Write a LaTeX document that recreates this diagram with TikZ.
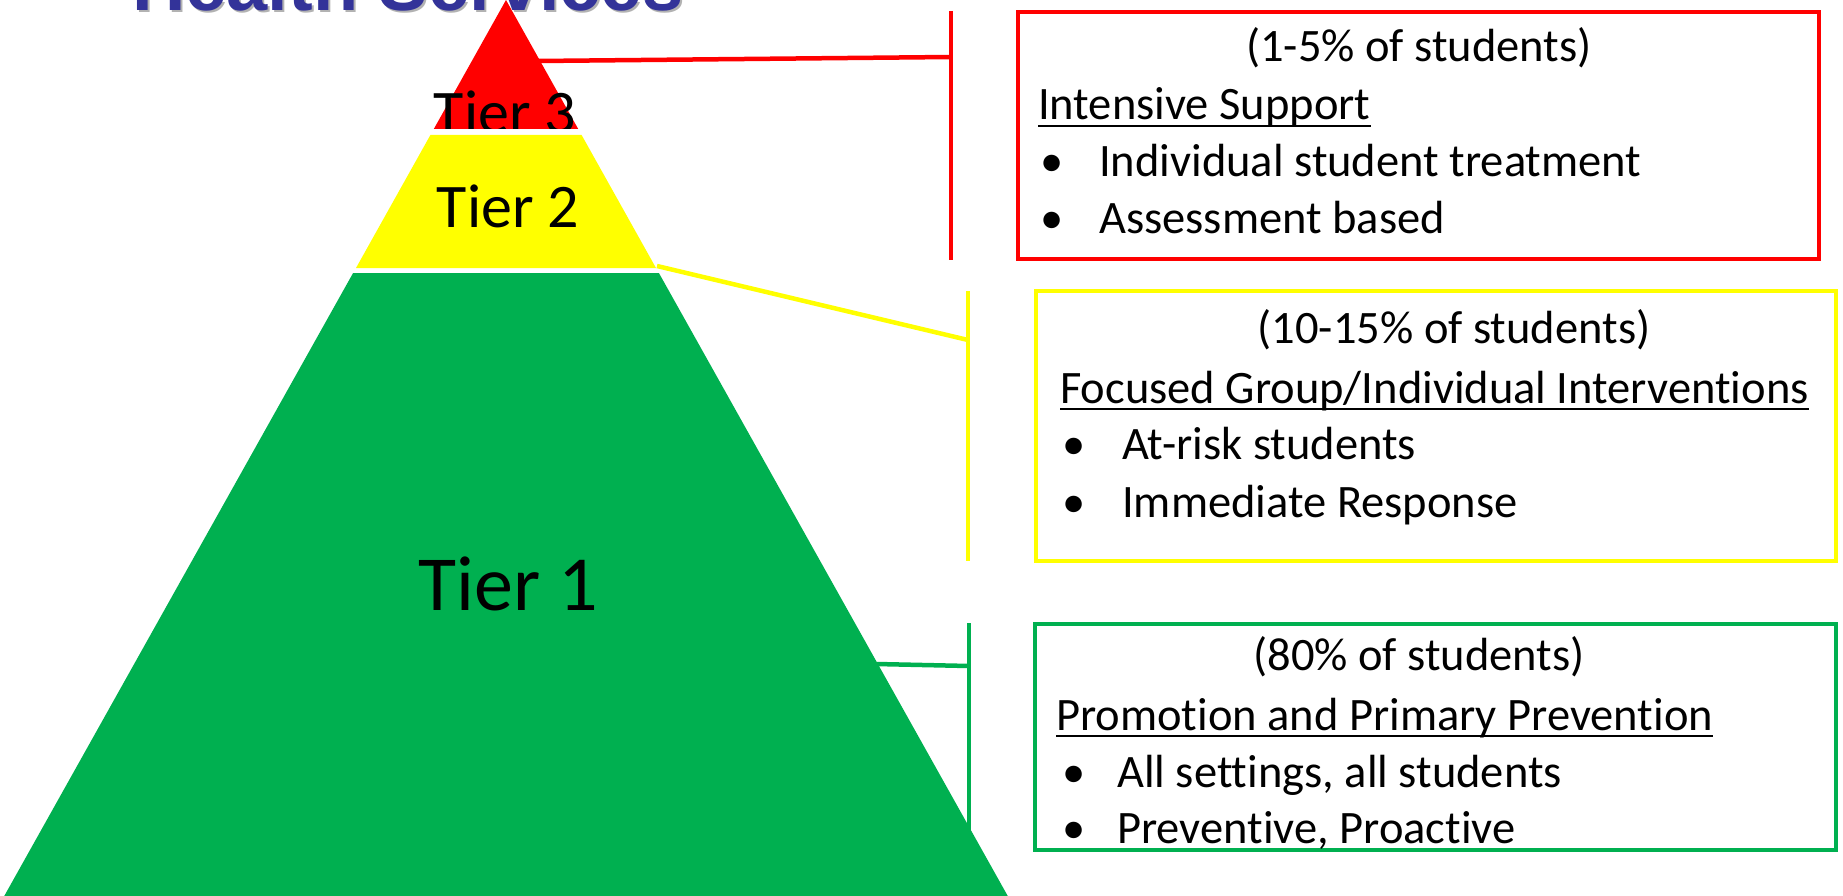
\documentclass[tikz,border=0pt]{standalone}
\usepackage{fontspec}
\setmainfont{Carlito}[Ligatures={NoCommon}]
\newfontfamily\titlefont{Liberation Sans}
\usetikzlibrary{calc}
\definecolor{tred}{RGB}{255,0,0}
\definecolor{tyel}{RGB}{255,255,0}
\definecolor{tgrn}{RGB}{0,176,80}
\definecolor{ttitle}{RGB}{51,51,153}
\begin{document}
\begin{tikzpicture}[x=1pt,y=-1pt,
  boxtext/.style={inner sep=0pt, anchor=base west, font=\fontsize{46.5}{55}\selectfont},
  boxhead/.style={inner sep=0pt, anchor=base, font=\fontsize{46.5}{55}\selectfont},
  tiertext/.style={inner sep=0pt, anchor=base},
  uline/.style={line width=2.5pt, black},
  conn/.style={line width=4.5pt},
  tierbox/.style={line width=4.5pt, inner sep=0pt, anchor=center}]
\useasboundingbox (0,0) rectangle (1843,896);
\clip (0,0) rectangle (1843,896);

% title (cut off at the top)
\node[anchor=base west, inner sep=0pt, text=black!30, font=\titlefont\bfseries\fontsize{74}{80}\selectfont] (titleshadow) at (134,13) {Health Services};
\node[anchor=base west, inner sep=0pt, text=ttitle, font=\titlefont\bfseries\fontsize{74}{80}\selectfont] (title) at (132,11) {Health Services};

% connector coordinates
\coordinate (rA) at (538,61);
\coordinate (rB) at (951,57);
\coordinate (rTop) at (951,11);
\coordinate (rBot) at (951,260);
\coordinate (yA) at (657,266);
\coordinate (yB) at (968,340);
\coordinate (yTop) at (968,291);
\coordinate (yBot) at (968,561);
\coordinate (gA) at (876,664);
\coordinate (gB) at (969,666);
\coordinate (gTop) at (969,623);
\coordinate (gBot) at (969,850);

\draw[conn, tred] (rA) -- (rB);
\draw[conn, tred] (rTop) -- (rBot);
\draw[conn, tyel] (yA) -- (yB);
\draw[conn, tyel] (yTop) -- (yBot);
\draw[conn, tgrn] (gA) -- (gB);
\draw[conn, tgrn] (gTop) -- (gBot);

% pyramid
\coordinate (apex) at (506,0);
\fill[tred] (apex) -- (578.2,129) -- (433.8,129) -- cycle;
\begin{scope}
  \clip (0,0) rectangle (1843,129);
  \node[tiertext, font=\fontsize{62}{70}\selectfont] (tier3) at (505,134) {Tier 3};
\end{scope}
\fill[tyel] (430.4,135) -- (581.6,135) -- (656,268) -- (356,268) -- cycle;
\node[tiertext, font=\fontsize{62}{70}\selectfont] (tier2) at (508,227) {Tier 2};
\fill[tgrn] (353.1,273) -- (658.9,273) -- (1010,900) -- (2,900) -- cycle;
\node[tiertext, font=\fontsize{78}{86}\selectfont] (tier1) at (508,610) {Tier 1};

% boxes
\node[tierbox, draw=tred, minimum width=801pt, minimum height=247pt] (boxR) at (1418.5,135.5) {};
\node[tierbox, draw=tyel, minimum width=800pt, minimum height=270pt] (boxY) at (1436,426) {};
\node[tierbox, draw=tgrn, minimum width=801pt, minimum height=226pt] (boxG) at (1435.5,737) {};

% red box text
\node[boxhead] (pR) at (1419,62) {(1-5\% of students)};
\node[boxtext] (hR) at (1038,120) {Intensive Support};
\draw[uline] ($(hR.base west)+(0,6)$) -- ($(hR.base east)+(0,6)$);
\node[boxtext] (bR1) at (1040,177) {•};
\node[boxtext] (iR1) at (1099,177) {Individual student treatment};
\node[boxtext] (bR2) at (1040,233) {•};
\node[boxtext] (iR2) at (1099,233) {Assessment based};

% yellow box text
\node[boxhead] (pY) at (1454,343) {(10-15\% of students)};
\node[boxtext] (hY) at (1060,403) {Focused Group/Individual Interventions};
\draw[uline] ($(hY.base west)+(0,6)$) -- ($(hY.base east)+(0,6)$);
\node[boxtext] (bY1) at (1062,459) {•};
\node[boxtext] (iY1) at (1122,459) {At-risk students};
\node[boxtext] (bY2) at (1062,517) {•};
\node[boxtext] (iY2) at (1122,517) {Immediate Response};

% green box text
\node[boxhead] (pG) at (1419,670) {(80\% of students)};
\node[boxtext] (hG) at (1056,730) {Promotion and Primary Prevention};
\draw[uline] ($(hG.base west)+(0,6)$) -- ($(hG.base east)+(0,6)$);
\node[boxtext] (bG1) at (1062,787) {•};
\node[boxtext] (iG1) at (1117,787) {All settings, all students};
\node[boxtext] (bG2) at (1062,843) {•};
\node[boxtext] (iG2) at (1117,843) {Preventive, Proactive};
\end{tikzpicture}
\end{document}
